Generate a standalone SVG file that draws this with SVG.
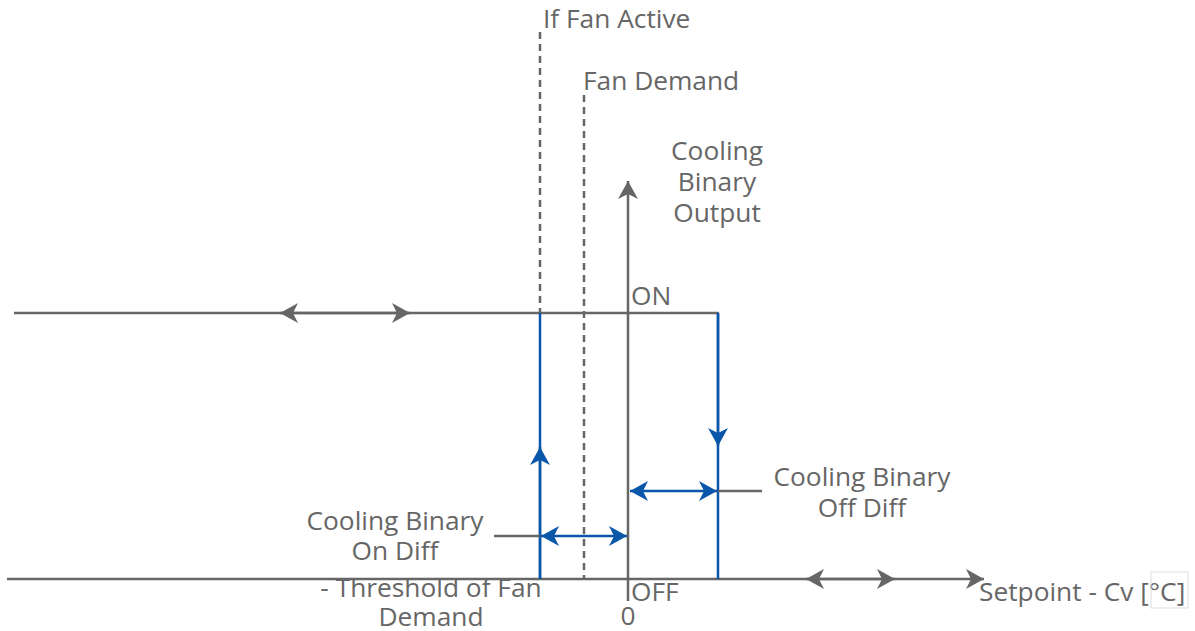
<svg xmlns="http://www.w3.org/2000/svg" width="1195" height="631" viewBox="0 0 1195 631">
<defs>
<style>
.ax{stroke:#666;stroke-width:2.5;fill:none}
.bl{stroke:#0a56a8;stroke-width:2.5;fill:none}
.ds{stroke:#666;stroke-width:2.5;fill:none;stroke-dasharray:7,5}
text{font-family:"Open Sans","Noto Sans","Liberation Sans",sans-serif;font-size:26.3px;fill:#666}
.c{text-anchor:middle}
</style>
<marker id="ag" markerUnits="userSpaceOnUse" markerWidth="20" markerHeight="22" refX="18" refY="10" orient="auto-start-reverse" viewBox="0 0 20 22">
<path d="M0,0 L18,10 L0,20 L5,10 Z" fill="#666"/>
</marker>
<marker id="ab" markerUnits="userSpaceOnUse" markerWidth="20" markerHeight="22" refX="18" refY="10" orient="auto-start-reverse" viewBox="0 0 20 22">
<path d="M0,0 L18,10 L0,20 L5,10 Z" fill="#0a56a8"/>
</marker>
</defs>
<g id="connectors">
<line class="ax" x1="7" y1="579" x2="984" y2="579" marker-end="url(#ag)"/>
<line class="ax" x1="806" y1="579" x2="895" y2="579" marker-start="url(#ag)" marker-end="url(#ag)"/>
<line class="ax" x1="628" y1="601" x2="628" y2="181" marker-end="url(#ag)"/>
<line class="ax" x1="14" y1="313" x2="719" y2="313"/>
<line class="ax" x1="280" y1="313" x2="410" y2="313" marker-start="url(#ag)" marker-end="url(#ag)"/>
<line class="ds" x1="540" y1="32" x2="540" y2="313"/>
<line class="ds" x1="584" y1="95" x2="584" y2="579"/>
<line class="bl" x1="540" y1="313" x2="540" y2="579"/>
<line class="bl" x1="540" y1="579" x2="540" y2="447" marker-end="url(#ab)"/>
<line class="bl" x1="718" y1="313" x2="718" y2="579"/>
<line class="bl" x1="718" y1="313" x2="718" y2="446" marker-end="url(#ab)"/>
<line class="ax" x1="494" y1="536" x2="540" y2="536"/>
<line class="bl" x1="541" y1="536" x2="627" y2="536" marker-start="url(#ab)" marker-end="url(#ab)"/>
<line class="ax" x1="718" y1="491" x2="762" y2="491"/>
<line class="bl" x1="630" y1="491" x2="717" y2="491" marker-start="url(#ab)" marker-end="url(#ab)"/>
</g>
<g id="labels">
<text x="543" y="28">If Fan Active</text>
<text x="583" y="90">Fan Demand</text>
<text class="c" x="717" y="160">Cooling</text>
<text class="c" x="717" y="191">Binary</text>
<text class="c" x="717" y="222">Output</text>
<text x="631" y="305">ON</text>
<text x="631" y="601">OFF</text>
<text class="c" x="628" y="625">0</text>
<text class="c" x="862" y="486">Cooling Binary</text>
<text class="c" x="862" y="517">Off Diff</text>
<text class="c" x="395" y="530">Cooling Binary</text>
<text class="c" x="395" y="560">On Diff</text>
<text class="c" x="431" y="597">- Threshold of Fan</text>
<text class="c" x="431" y="626">Demand</text>
<text x="979" y="601">Setpoint - Cv [°C]</text>
<rect x="1151" y="572" width="37" height="36" fill="none" stroke="#ddd" stroke-width="1"/>
</g>
</svg>
